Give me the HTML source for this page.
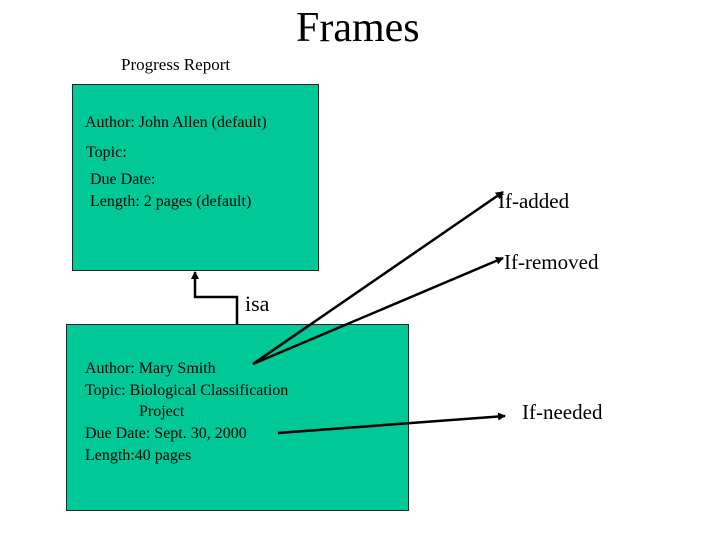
<!DOCTYPE html>
<html><head><style>
body{margin:0;width:720px;height:540px;background:#fff;position:relative;overflow:hidden;font-family:"Liberation Serif",serif;}
.t{position:absolute;white-space:nowrap;color:#000;}
.box{position:absolute;background:#00c896;border:1px solid #222;box-sizing:border-box;}
</style></head><body>
<div class="t" style="left:296px;top:4px;font-size:42px;">Frames</div>
<div class="t" style="left:121px;top:55px;font-size:17px;">Progress Report</div>
<div class="box" style="left:72px;top:84px;width:247px;height:187px;"></div>
<div class="box" style="left:66px;top:324px;width:343px;height:187px;"></div>
<div class="t" style="left:85px;top:114px;font-size:16px;">Author: John Allen (default)</div>
<div class="t" style="left:86px;top:144px;font-size:16px;">Topic:</div>
<div class="t" style="left:90px;top:171px;font-size:16px;">Due Date:</div>
<div class="t" style="left:90px;top:193px;font-size:16px;">Length: 2 pages (default)</div>
<div class="t" style="left:85px;top:360px;font-size:16px;">Author: Mary Smith</div>
<div class="t" style="left:85px;top:382px;font-size:16px;">Topic: Biological Classification</div>
<div class="t" style="left:139px;top:403px;font-size:16px;">Project</div>
<div class="t" style="left:85px;top:425px;font-size:16px;">Due Date: Sept. 30, 2000</div>
<div class="t" style="left:85px;top:447px;font-size:16px;">Length:40 pages</div>
<div class="t" style="left:245px;top:291px;font-size:22px;">isa</div>
<div class="t" style="left:498px;top:189px;font-size:21px;">If-added</div>
<div class="t" style="left:504px;top:250px;font-size:21px;">If-removed</div>
<div class="t" style="left:522px;top:400px;font-size:21px;">If-needed</div>
<svg width="720" height="540" style="position:absolute;left:0;top:0">
<defs><marker id="a" markerWidth="8" markerHeight="8" refX="7" refY="4" orient="auto" markerUnits="userSpaceOnUse"><path d="M0,0 L8,4 L0,8z" fill="#000"/></marker></defs>
<polyline points="237,324 237,297 195,297 195,272" fill="none" stroke="#000" stroke-width="2.5" marker-end="url(#a)"/>
<line x1="253" y1="364" x2="503" y2="192" stroke="#000" stroke-width="2.5" marker-end="url(#a)"/>
<line x1="253" y1="364" x2="503" y2="258" stroke="#000" stroke-width="2.5" marker-end="url(#a)"/>
<line x1="278" y1="433" x2="505" y2="416" stroke="#000" stroke-width="2.5" marker-end="url(#a)"/>
</svg>
</body></html>
